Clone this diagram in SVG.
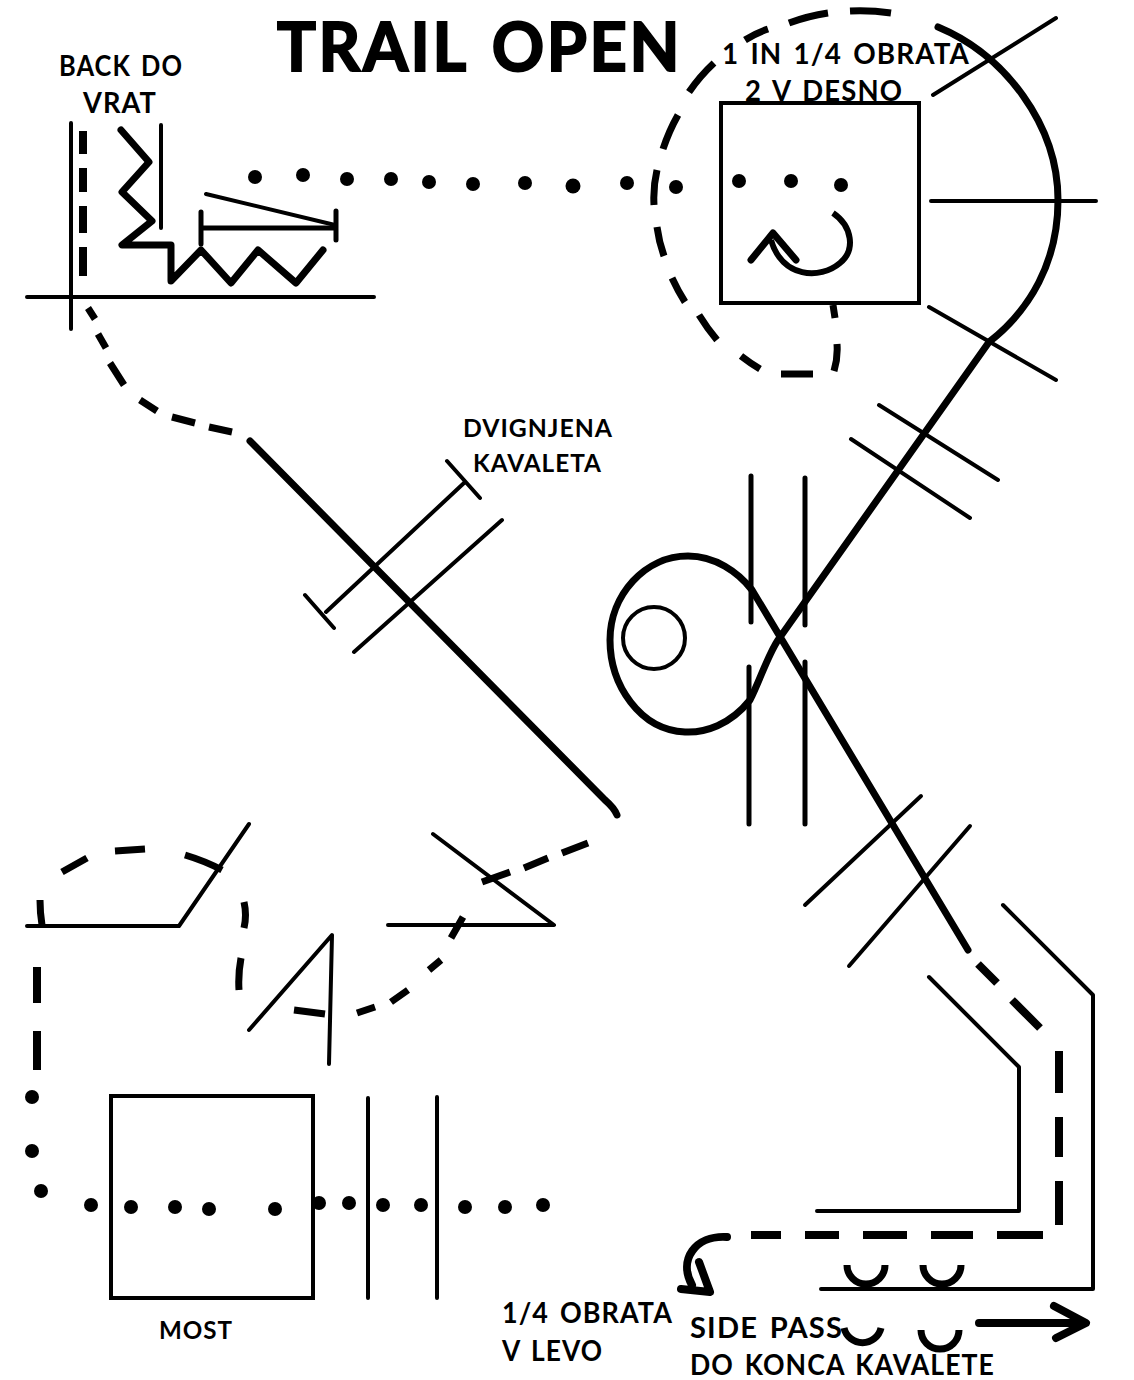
<svg xmlns="http://www.w3.org/2000/svg" width="1134" height="1380" viewBox="0 0 1134 1380">
<style>
.t{font-family:"Lato","Open Sans","DejaVu Sans",sans-serif;font-weight:700;fill:#000;font-size:29px;word-spacing:.12em;letter-spacing:.04em}
.s{font-size:25px}
.l{fill:none;stroke:#000;stroke-width:4;stroke-linecap:round;stroke-linejoin:round}
.m{fill:none;stroke:#000;stroke-width:7;stroke-linecap:round;stroke-linejoin:round}
.d{fill:none;stroke:#000;stroke-width:7;stroke-linecap:butt}
.w{stroke-width:8}
</style>
<rect width="1134" height="1380" fill="#fff"/>
<g id="titles">
<text class="t" x="277" y="71" style="font-size:66px;stroke:#000;stroke-width:2;word-spacing:.1em" textLength="405" lengthAdjust="spacingAndGlyphs">TRAIL OPEN</text>
<text class="t" x="59" y="76" textLength="124" lengthAdjust="spacingAndGlyphs">BACK DO</text>
<text class="t" x="83" y="113" textLength="74" lengthAdjust="spacingAndGlyphs">VRAT</text>
<text class="t" x="722" y="64" textLength="248" lengthAdjust="spacingAndGlyphs">1 IN 1/4 OBRATA</text>
<text class="t" x="745" y="101" textLength="158" lengthAdjust="spacingAndGlyphs">2 V DESNO</text>
<text class="t s" x="463" y="437" textLength="150" lengthAdjust="spacingAndGlyphs">DVIGNJENA</text>
<text class="t s" x="473" y="472" textLength="129" lengthAdjust="spacingAndGlyphs">KAVALETA</text>
<text class="t s" x="159" y="1339" textLength="74" lengthAdjust="spacingAndGlyphs">MOST</text>
<text class="t" x="502" y="1323" textLength="171" lengthAdjust="spacingAndGlyphs">1/4 OBRATA</text>
<text class="t" x="502" y="1361" textLength="101" lengthAdjust="spacingAndGlyphs">V LEVO</text>
<text class="t" x="690" y="1338" textLength="153" lengthAdjust="spacingAndGlyphs">SIDE PASS</text>
<text class="t" x="690" y="1375" textLength="305" lengthAdjust="spacingAndGlyphs">DO KONCA KAVALETE</text>
</g>
<g id="back-do-vrat">
<path class="l" d="M71 123V329M27 297H374M161 125V228"/>
<path class="d w" d="M83 131V154M83 168V192M83 206V233M83 247V276"/>
<path class="m" d="M121 130L149 162L122 192L152 221L122 245H171V281L201 250L231 283L258 250L296 283L323 250"/>
<path class="l" d="M206 194L335 225"/>
<path class="l" style="stroke-width:5" d="M201 212V244M336 211V240M201 228H336"/>
</g>
<g id="top-dots" fill="#000">
<circle cx="255" cy="177" r="7"/><circle cx="303" cy="175" r="7"/><circle cx="347" cy="179" r="7"/><circle cx="391" cy="179" r="7"/><circle cx="429" cy="182" r="7"/><circle cx="473" cy="184" r="7"/><circle cx="525" cy="183" r="7"/><circle cx="573" cy="186" r="7.5"/><circle cx="627" cy="183" r="7"/><circle cx="676" cy="187" r="7"/><circle cx="739" cy="181" r="7"/><circle cx="791" cy="181" r="7"/><circle cx="841" cy="185" r="7"/>
</g>
<g id="turn-box">
<rect x="721" y="103" width="198" height="200" fill="none" stroke="#000" stroke-width="4"/>
<path class="m" style="stroke-linecap:butt;stroke-width:6" d="M833 213C852 226 856 250 840 263C820 280 782 278 771 240"/>
<path class="m" d="M751 260L773 233L796 260"/>
<path class="l" d="M933 95L1056 18M931 201H1096M929 307L1056 380"/>
</g>
<g id="path-top">
<path class="d" d="M850 11Q870 10 891 13M789 23Q808 16 828 13M745 40Q756 33 768 29M689 92Q700 76 714 63M663 149Q669 131 678 115M657 170Q653 187 654 205M657 227Q659 242 664 256M672 278Q678 291 685 302M699 315Q707 328 717 340M741 356Q750 363 760 369M781 374H813M837 344Q838 358 834 371M833 305L835 318"/>
<path class="m" d="M938 27C1005 55 1058 125 1058 200C1058 262 1030 310 989 342L778 640C768 655 760 680 750 700C730 725 705 733 685 732C640 730 610 685 610 640C610 595 645 556 688 556C715 556 738 572 752 590L968 950"/>
<path class="m" d="M250 441L605 800C612 806 615 810 617 815"/>
</g>
<g id="top-right-poles">
<path class="l" d="M879 405L998 480M851 439L970 518"/>
<path class="l" style="stroke-width:5" d="M751 476V622M805 478V625M749 667V824M805 662V824"/>
<circle cx="654" cy="638" r="31" fill="none" stroke="#000" stroke-width="4"/>
<path class="l" d="M805 905L921 796M849 966L970 826"/>
</g>
<g id="kavaleta">
<path class="l" d="M326 612L464 483M447 461L480 498M305 595L334 628M354 652L502 520"/>
</g>
<g id="dashes-left">
<path class="d" d="M88 308L95 319M98 334L106 348M110 363L124 385M140 400L157 411M172 417L195 423M209 427L232 432"/>
<path class="d" d="M482 882L510 872M524 868L548 858M562 853L588 843"/>
<path class="d" d="M451 938L463 917M429 970L441 960M391 1002L408 990M357 1013L375 1007M294 1010Q310 1012 325 1014M241 958Q238 974 239 990M244 902Q247 915 244 928"/>
<path class="d" d="M62 872L87 858M115 851L145 849M185 855Q205 861 222 870M40 900Q40 913 42 925"/>
<path class="d" style="stroke-width:8" d="M37 967V1003M37 1031V1070"/>
</g>
<g id="left-obstacles">
<path class="l" d="M27 926H179L249 824M433 834L554 925H388M249 1030L332 935L329 1064"/>
</g>
<g id="bridge">
<rect x="111" y="1096" width="202" height="202" fill="none" stroke="#000" stroke-width="4"/>
<path class="l" d="M368 1098V1298M437 1097V1298"/>
</g>
<g id="bottom-dots" fill="#000">
<circle cx="32" cy="1097" r="7"/><circle cx="32" cy="1151" r="7"/><circle cx="41" cy="1191" r="7"/><circle cx="91" cy="1205" r="7"/><circle cx="131" cy="1207" r="7"/><circle cx="175" cy="1207" r="7"/><circle cx="209" cy="1209" r="7"/><circle cx="275" cy="1209" r="7"/><circle cx="319" cy="1203" r="7"/><circle cx="349" cy="1203" r="7"/><circle cx="383" cy="1205" r="7"/><circle cx="421" cy="1205" r="7"/><circle cx="465" cy="1207" r="7"/><circle cx="505" cy="1207" r="7"/><circle cx="543" cy="1205" r="7"/>
</g>
<g id="side-pass">
<path class="l" d="M929 977L1019 1067V1211H817M1003 905L1093 995V1289H821"/>
<path class="d w" d="M978 964L997 983M1012 1000L1040 1028M1059 1051V1093M1059 1117V1157M1059 1181V1225M1043 1235H997M973 1235H931M907 1235H863M839 1235H805M781 1235H751"/>
<path class="m" style="stroke-width:8" d="M727 1237C695 1235 678 1260 692 1285M699 1262L710 1292L681 1289"/>
<path class="m" style="stroke-width:7;stroke-linecap:butt" d="M847 1265A19 19 0 0 0 885 1265M923 1265A19 19 0 0 0 961 1265M844 1328A19 19 0 0 0 881 1328M921 1330A19 19 0 0 0 959 1330"/>
<path class="m" style="stroke-width:8" d="M979 1323H1084M1054 1306L1086 1323L1056 1338"/>
</g>
</svg>
